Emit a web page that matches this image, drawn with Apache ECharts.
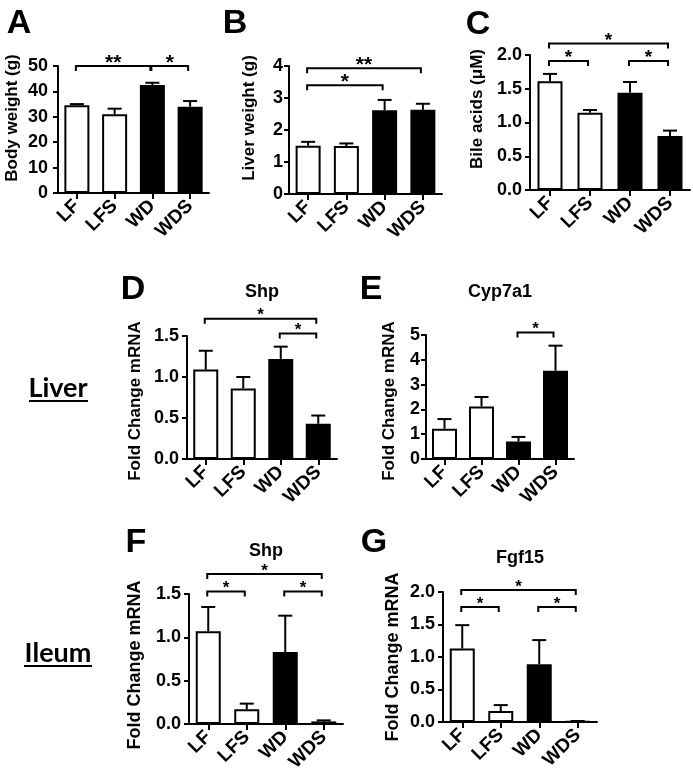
<!DOCTYPE html>
<html><head><meta charset="utf-8">
<script src="https://cdn.jsdelivr.net/npm/echarts@6/dist/echarts.min.js"></script>
<style>html,body{margin:0;padding:0;background:#fff}#c{width:693px;height:779px}</style>
</head><body><div id="c"></div>
<script>
// ---------- data ----------
const categories = ['LF', 'LFS', 'WD', 'WDS'];

const bodyWeight = [34.5, 31.0, 42.5, 34.0];
const bodyWeightSem = [0.5, 2.2, 0.9, 2.2];
const bodyWeightTicks = [0, 10, 20, 30, 40, 50];
const bodyWeightSig = [[0, 2, 50, '**'], [2, 3, 50, '*']];

const liverWeight = [1.51, 1.50, 2.62, 2.63];
const liverWeightSem = [0.12, 0.08, 0.32, 0.19];
const liverWeightTicks = [0, 1, 2, 3, 4];
const liverWeightSig = [[0, 3, 3.93, '**'], [0, 2, 3.40, '*']];

const bileAcids = [1.61, 1.145, 1.44, 0.80];
const bileAcidsSem = [0.11, 0.04, 0.16, 0.08];
const bileAcidsTicks = [0.0, 0.5, 1.0, 1.5, 2.0];
const bileAcidsSig = [[0, 3, 2.17, '*'], [0, 1, 1.91, '*'], [2, 3, 1.91, '*']];

const liverShp = [1.09, 0.86, 1.22, 0.43];
const liverShpSem = [0.23, 0.14, 0.15, 0.10];
const liverShpTicks = [0.0, 0.5, 1.0, 1.5];
const liverShpSig = [[0, 3, 1.71, '*'], [2, 3, 1.53, '*']];

const liverCyp7a1 = [1.22, 2.12, 0.71, 3.56];
const liverCyp7a1Sem = [0.39, 0.38, 0.18, 1.01];
const liverCyp7a1Ticks = [0, 1, 2, 3, 4, 5];
const liverCyp7a1Sig = [[2, 3, 5.1, '*']];

const ileumShp = [1.07, 0.17, 0.83, 0.03];
const ileumShpSem = [0.28, 0.065, 0.42, 0.012];
const ileumShpTicks = [0.0, 0.5, 1.0, 1.5];
const ileumShpSig = [[0, 3, 1.73, '*'], [0, 1, 1.53, '*'], [2, 3, 1.53, '*']];

const ileumFgf15 = [1.13, 0.17, 0.89, 0.01];
const ileumFgf15Sem = [0.36, 0.09, 0.37, 0.005];
const ileumFgf15Ticks = [0.0, 0.5, 1.0, 1.5, 2.0];
const ileumFgf15Sig = [[0, 3, 2.03, '*'], [0, 1, 1.77, '*'], [2, 3, 1.77, '*']];

const panelLetters = ['A', 'B', 'C', 'D', 'E', 'F', 'G'];
const yTitles = ['Body weight (g)', 'Liver weight (g)', 'Bile acids (\u03BCM)',
  'Fold Change mRNA', 'Fold Change mRNA', 'Fold Change mRNA', 'Fold Change mRNA'];
const geneTitles = ['', '', '', 'Shp', 'Cyp7a1', 'Shp', 'Fgf15'];
const tissueLabels = ['Liver', 'Ileum'];

// ---------- layout (style only) ----------
const FONT = '"Liberation Sans", Arial, sans-serif';
const panels = [
  { mean: bodyWeight, sem: bodyWeightSem, ticks: bodyWeightTicks, sig: bodyWeightSig, dec: 0,
    grid: { left: 58, top: 66, width: 151, height: 127 }, star: 21, ym: 10,
    letter: [19, 24], ytitle: [12, 118, 17], title: null },
  { mean: liverWeight, sem: liverWeightSem, ticks: liverWeightTicks, sig: liverWeightSig, dec: 0,
    grid: { left: 289, top: 66, width: 153, height: 128 }, star: 21, ym: 6,
    letter: [235, 24], ytitle: [249, 118, 17], title: null },
  { mean: bileAcids, sem: bileAcidsSem, ticks: bileAcidsTicks, sig: bileAcidsSig, dec: 1,
    grid: { left: 530, top: 55, width: 160, height: 135 }, star: 19, ym: 8,
    letter: [478, 25], ytitle: [477, 109, 17], title: null },
  { mean: liverShp, sem: liverShpSem, ticks: liverShpTicks, sig: liverShpSig, dec: 1,
    grid: { left: 187, top: 336, width: 150, height: 123 }, star: 17, ym: 8,
    letter: [133, 290], ytitle: [135, 401, 17], title: [262, 292] },
  { mean: liverCyp7a1, sem: liverCyp7a1Sem, ticks: liverCyp7a1Ticks, sig: liverCyp7a1Sig, dec: 0,
    grid: { left: 426, top: 335, width: 148, height: 124 }, star: 17, ym: 6,
    letter: [371, 290], ytitle: [389, 401, 17], title: [500, 292] },
  { mean: ileumShp, sem: ileumShpSem, ticks: ileumShpTicks, sig: ileumShpSig, dec: 1,
    grid: { left: 189, top: 594, width: 154, height: 130 }, star: 17, ym: 8,
    letter: [136, 543], ytitle: [135, 665, 18], title: [266, 551] },
  { mean: ileumFgf15, sem: ileumFgf15Sem, ticks: ileumFgf15Ticks, sig: ileumFgf15Sig, dec: 1,
    grid: { left: 443, top: 592, width: 154, height: 130 }, star: 17, ym: 8,
    letter: [374, 543], ytitle: [393, 657, 18], title: [520, 558] }
];

const grids = [], xAxes = [], yAxes = [], series = [], graphics = [];

panels.forEach((p, i) => {
  grids.push(Object.assign({ containLabel: false }, p.grid));
  xAxes.push({
    type: 'category', gridIndex: i, data: categories,
    axisLine: { show: true, lineStyle: { color: '#000', width: 2 } },
    axisTick: { show: true, alignWithLabel: true, length: 6, lineStyle: { color: '#000', width: 2 } },
    axisLabel: { interval: 0, rotate: 45, margin: 10, color: '#000', fontSize: 19, fontWeight: 'bold', fontFamily: FONT },
    splitLine: { show: false }
  });
  const t = p.ticks;
  yAxes.push({
    type: 'value', gridIndex: i, min: t[0], max: t[t.length - 1], interval: t[1] - t[0],
    axisLine: { show: true, lineStyle: { color: '#000', width: 2 } },
    axisTick: { show: true, length: 5, lineStyle: { color: '#000', width: 2 } },
    axisLabel: { margin: p.ym, color: '#000', fontSize: 18, fontWeight: 'bold', fontFamily: FONT,
      formatter: v => Number(v).toFixed(p.dec) },
    splitLine: { show: false }
  });
  series.push({
    type: 'bar', xAxisIndex: i, yAxisIndex: i, barWidth: 25, z: 2,
    data: p.mean.map((v, k) => ({
      value: v,
      itemStyle: k < 2 ? { color: '#fff', borderColor: '#000', borderWidth: 2 }
                       : { color: '#000', borderColor: '#000', borderWidth: 2 }
    }))
  });
  // error bars (upper only)
  series.push({
    type: 'custom', xAxisIndex: i, yAxisIndex: i, z: 3, clip: false,
    data: p.mean.map((v, k) => [k, v, v + p.sem[k]]),
    renderItem: (params, api) => {
      const a = api.coord([api.value(0), api.value(1)]);
      const b = api.coord([api.value(0), api.value(2)]);
      const st = { stroke: '#000', lineWidth: 2 };
      return { type: 'group', children: [
        { type: 'line', shape: { x1: a[0], y1: a[1], x2: b[0], y2: b[1] }, style: st },
        { type: 'line', shape: { x1: b[0] - 7, y1: b[1], x2: b[0] + 7, y2: b[1] }, style: st }
      ] };
    }
  });
  // significance brackets
  series.push({
    type: 'custom', xAxisIndex: i, yAxisIndex: i, z: 4, clip: false,
    data: p.sig.map(s => [s[0], s[1], s[2]]),
    renderItem: (params, api) => {
      const s = p.sig[params.dataIndex];
      const a = api.coord([api.value(0), api.value(2)]);
      const b = api.coord([api.value(1), api.value(2)]);
      const st = { stroke: '#000', lineWidth: 2, fill: null };
      const x1 = a[0] - 1, x2 = b[0] - 2;
      const mx = (x1 + x2) / 2;
      return { type: 'group', children: [
        { type: 'polyline', shape: { points: [[x1, a[1] + 5], [x1, a[1]], [x2, b[1]], [x2, b[1] + 5]] }, style: st },
        { type: 'text', style: { text: s[3], x: mx, y: a[1] - 3, fill: '#000',
            font: 'bold ' + p.star + 'px ' + FONT,
            align: 'center', verticalAlign: 'middle', textAlign: 'center', textVerticalAlign: 'middle' } }
      ] };
    }
  });

  graphics.push({ type: 'text', x: p.letter[0], y: p.letter[1],
    style: { text: panelLetters[i], font: 'bold 34px ' + FONT, fill: '#000',
      align: 'center', verticalAlign: 'middle', textAlign: 'center', textVerticalAlign: 'middle' } });
  graphics.push({ type: 'text', x: p.ytitle[0], y: p.ytitle[1], rotation: Math.PI / 2,
    style: { text: yTitles[i], font: 'bold ' + p.ytitle[2] + 'px ' + FONT, fill: '#000',
      align: 'center', verticalAlign: 'middle', textAlign: 'center', textVerticalAlign: 'middle' } });
  if (p.title) {
    graphics.push({ type: 'text', x: p.title[0], y: p.title[1],
      style: { text: geneTitles[i], font: 'bold 18px ' + FONT, fill: '#000',
        align: 'center', verticalAlign: 'middle', textAlign: 'center', textVerticalAlign: 'middle' } });
  }
});

// tissue labels with underline
[[58, 388], [58, 653]].forEach((pos, k) => {
  graphics.push({ type: 'text', x: pos[0], y: pos[1],
    style: { text: tissueLabels[k], font: 'bold 27px Lato, "Open Sans", sans-serif', fill: '#000',
      align: 'center', verticalAlign: 'middle', textAlign: 'center', textVerticalAlign: 'middle' } });
});
graphics.push({ type: 'line', shape: { x1: 29, y1: 401, x2: 88, y2: 401 }, style: { stroke: '#000', lineWidth: 2 } });
graphics.push({ type: 'line', shape: { x1: 24, y1: 666, x2: 92, y2: 666 }, style: { stroke: '#000', lineWidth: 2 } });

const chart = echarts.init(document.getElementById('c'), null, { renderer: 'canvas' });
chart.setOption({
  backgroundColor: '#fff',
  animation: false,
  grid: grids, xAxis: xAxes, yAxis: yAxes, series: series,
  graphic: graphics
});
</script></body></html>
